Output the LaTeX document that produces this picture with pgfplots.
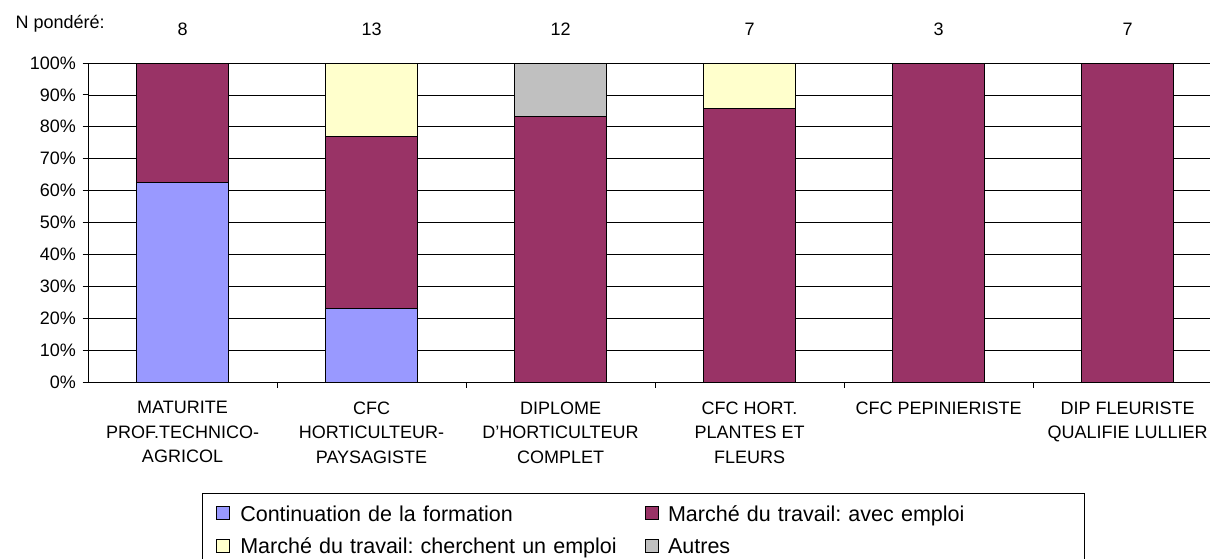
\documentclass[border=0pt]{standalone}
\usepackage{pgfplots}
\pgfplotsset{compat=1.18}
\usepackage{fontspec}
\setmainfont{Liberation Sans}
\frenchspacing
\definecolor{cont}{HTML}{9999FF}
\definecolor{emploi}{HTML}{993366}
\definecolor{cherche}{HTML}{FFFFCC}
\definecolor{autres}{HTML}{C0C0C0}

% shares in percent, N = 8, 13, 12, 7, 3, 7
\pgfplotstableread{
x  cont   emploi  cherche  autres
0  62.5   37.5    0        0
1  23.08  53.85   23.07    0
2  0      83.33   0        16.67
3  0      85.71   14.29    0
4  0      100     0        0
5  0      100     0        0
}\parts

\begin{document}
\begin{tikzpicture}[font=\fontsize{18}{22}\selectfont]
\path[use as bounding box] (0,0) rectangle (1210pt,558pt);
\begin{axis}[
    at={(88pt,176pt)}, anchor=south west,
    scale only axis, width=1122pt, height=319pt,
    ybar stacked, bar width=91.5pt,
    xmin=-0.5, xmax=5.436, ymin=0, ymax=100,
    axis x line*=bottom, axis y line*=left,
    axis line style={black, line width=1pt},
    tick align=outside,
    major tick length=5.5pt,
    tick style={black, line width=1pt},
    ytick={0,10,...,100},
    yticklabel={\pgfmathprintnumber{\tick}\%},
    yticklabel style={xshift=-3pt},
    /pgf/number format/assume math mode=true,
    ymajorgrids, grid style={black, line width=0.8pt},
    xtick={0.5,1.5,2.5,3.5,4.5},
    xticklabels={,,,,},
    extra x ticks={0,1,2,3,4,5},
    extra x tick labels={
        {MATURITE\\PROF.TECHNICO-\\AGRICOL},
        {CFC\\HORTICULTEUR-\\PAYSAGISTE},
        {DIPLOME\\D'HORTICULTEUR\\COMPLET},
        {CFC HORT.\\PLANTES ET\\FLEURS},
        {CFC PEPINIERISTE},
        {DIP FLEURISTE\\QUALIFIE LULLIER}},
    extra x tick style={major tick length=0pt,
        xticklabel style={align=center, font=\fontsize{18}{24.5}\selectfont, yshift=-16pt}},
    clip=false,
    legend columns=2,
    legend cell align=left,
    legend image code/.code={\draw[#1,draw=black,line width=0.8pt] (0pt,-4.3pt) rectangle (13pt,8.7pt);},
    legend style={at={(axis description cs:0.1016,-0.348)}, anchor=north west,
        draw=black, line width=1pt, font=\fontsize{21.5}{26}\selectfont,
        inner xsep=14pt, inner ysep=11.5pt, row sep=11.5pt,
        nodes={inner sep=0pt, text height=16pt, text depth=5pt},
        /tikz/column 1/.style={column sep=10pt},
        /tikz/column 2/.style={column sep=0pt, nodes={text width=405pt}},
        /tikz/column 3/.style={column sep=9pt},
        /tikz/column 4/.style={nodes={text width=402pt}}},
]
\addplot[fill=cont, draw=black, line width=0.8pt] table[x=x, y=cont] {\parts};
\addlegendentry{Continuation de la formation}
\addplot[fill=emploi, draw=black, line width=0.8pt] table[x=x, y=emploi] {\parts};
\addlegendentry{Marché du travail: avec emploi}
\addplot[fill=cherche, draw=black, line width=0.8pt] table[x=x, y=cherche] {\parts};
\addlegendentry{Marché du travail: cherchent un emploi}
\addplot[fill=autres, draw=black, line width=0.8pt] table[x=x, y=autres] {\parts};
\addlegendentry{Autres}

\node[anchor=base west, xshift=-76pt, yshift=35pt] at (rel axis cs:0,1) {N pondéré:};
\node[anchor=base, yshift=27.5pt] at (axis cs:0,100) {8};
\node[anchor=base, yshift=27.5pt] at (axis cs:1,100) {13};
\node[anchor=base, yshift=27.5pt] at (axis cs:2,100) {12};
\node[anchor=base, yshift=27.5pt] at (axis cs:3,100) {7};
\node[anchor=base, yshift=27.5pt] at (axis cs:4,100) {3};
\node[anchor=base, yshift=27.5pt] at (axis cs:5,100) {7};
\end{axis}
\end{tikzpicture}
\end{document}
